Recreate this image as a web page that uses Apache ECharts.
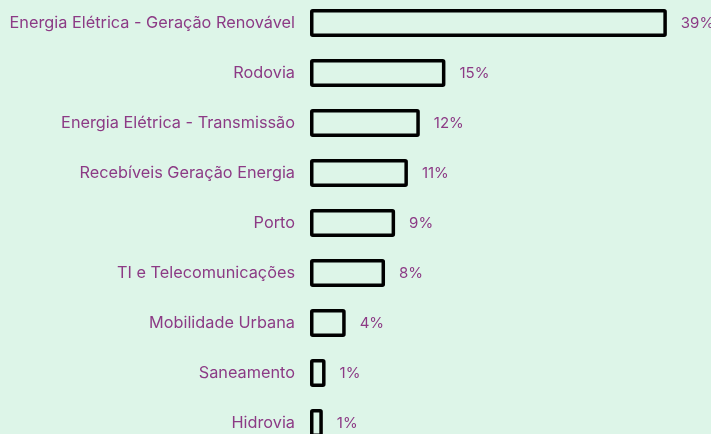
<!DOCTYPE html>
<html>
<head>
<meta charset="utf-8">
<script src="https://cdn.jsdelivr.net/npm/echarts@6/dist/echarts.min.js"></script>
<style>
  html, body { margin: 0; padding: 0; background: #ddf5e8; }
  #chart { width: 711px; height: 434px; }
</style>
</head>
<body>
<div id="chart"></div>
<script>
// setores (de cima para baixo)
var categorias = [
    'Energia Elétrica - Geração Renovável',
    'Rodovia',
    'Energia Elétrica - Transmissão',
    'Recebíveis Geração Energia',
    'Porto',
    'TI e Telecomunicações',
    'Mobilidade Urbana',
    'Saneamento',
    'Hidrovia'
];
// participação (%)
var valores = [39.0, 14.8, 12.0, 10.7, 9.3, 8.2, 3.9, 1.7, 1.4];
var rotulos = ['39%', '15%', '12%', '11%', '9%', '8%', '4%', '1%', '1%'];

(function () {
    var myChart = echarts.init(document.getElementById('chart'));
    var roxo = '#8c3a85';
    var fonte = 'Inter, "Noto Sans", sans-serif';

    var option = {
        backgroundColor: '#ddf5e8',
        animation: false,
        grid: {
            left: 310,
            right: 35,
            top: -2,
            bottom: -14,
            containLabel: false,
            outerBoundsMode: 'none'
        },
        xAxis: {
            type: 'value',
            min: 0,
            max: 40,
            show: false
        },
        yAxis: {
            type: 'category',
            inverse: true,
            data: categorias,
            axisLine: { show: false },
            axisTick: { show: false },
            axisLabel: {
                color: roxo,
                fontFamily: fonte,
                fontSize: 16.3,
                margin: 15
            }
        },
        series: [
            {
                type: 'bar',
                data: valores,
                barWidth: 28,
                itemStyle: {
                    color: 'transparent',
                    borderColor: '#000',
                    borderWidth: 3.5,
                    borderRadius: 1
                },
                label: {
                    show: true,
                    position: 'right',
                    distance: 14,
                    color: roxo,
                    fontFamily: fonte,
                    fontSize: 15,
                    formatter: function (p) { return rotulos[p.dataIndex]; }
                }
            }
        ]
    };
    myChart.setOption(option);
})();
</script>
</body>
</html>
